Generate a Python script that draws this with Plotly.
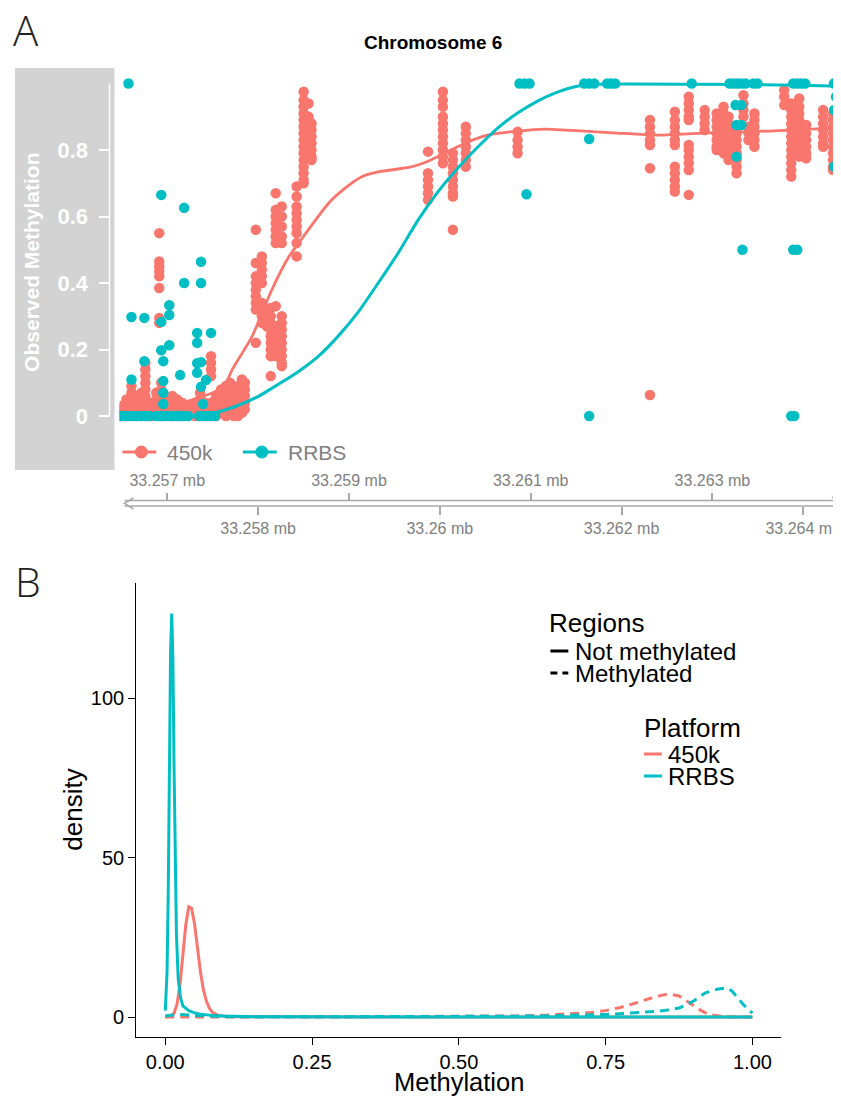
import plotly.graph_objects as go

W, H = 841, 1097
OFF = 8  # page body margin of the viewer, compensated in layout positions
SALMON = "#F8766D"
TEAL = "#00BFC4"

# ---------------- Panel A data (genomic position in bp, methylation) ----------------
k450_pos = [33256496, 33256551, 33256606, 33256660, 33256715, 33256759, 33256825, 33256880,
            33256912, 33256934, 33257000, 33257055, 33257110, 33257164, 33257241, 33257307,
            33257361, 33257416, 33257482, 33257537, 33257592, 33257646, 33257690, 33257734,
            33257778, 33257822, 33257854, 33257975, 33258041, 33258095, 33258139, 33258194,
            33258260, 33258424, 33258501, 33258555, 33258588, 33259870, 33260034, 33260144,
            33260286, 33260856, 33262313, 33262587, 33262740, 33262915, 33263047, 33263123,
            33263178, 33263266, 33263342, 33263397, 33263463, 33263791, 33263868, 33263956,
            33264032, 33264219, 33264328]
k450_vals = [
    [0.0, 0.02, 0.03], [0.0, 0.02, 0.04, 0.05], [0.01, 0.03, 0.05, 0.07, 0.09],
    [0.0, 0.02, 0.04, 0.06], [0.01, 0.03, 0.05, 0.07],
    [0.02, 0.04, 0.06, 0.08, 0.10, 0.12, 0.14, 0.16], [0.0, 0.02, 0.04],
    [0.01, 0.03, 0.05, 0.07], [0.55, 0.465, 0.45, 0.435, 0.42, 0.385, 0.295, 0.28],
    [0.0, 0.02, 0.04, 0.06, 0.08, 0.10], [0.01, 0.03, 0.05], [0.0, 0.02, 0.04, 0.06],
    [0.01, 0.03, 0.05], [0.0, 0.02, 0.04], [0.01, 0.03], [0.0, 0.02, 0.04],
    [0.01, 0.03, 0.05, 0.07], [0.0, 0.02, 0.04], [0.02, 0.04, 0.12, 0.14, 0.16, 0.18],
    [0.0, 0.02, 0.04, 0.06], [0.01, 0.03, 0.05, 0.07, 0.08], [0.0, 0.02, 0.04, 0.06, 0.09],
    [0.01, 0.03, 0.05, 0.07, 0.10], [0.0, 0.02, 0.04, 0.06, 0.08], [0.0, 0.02, 0.04, 0.06, 0.09],
    [0.01, 0.03, 0.05, 0.07, 0.09, 0.11], [0.02, 0.04, 0.06, 0.08, 0.10],
    [0.56, 0.46, 0.42, 0.40, 0.38, 0.36, 0.34, 0.32, 0.22],
    [0.48, 0.46, 0.44, 0.42, 0.40, 0.34, 0.32, 0.30, 0.28], [0.30, 0.27],
    [0.325, 0.30, 0.28, 0.26, 0.24, 0.22, 0.20, 0.18, 0.12],
    [0.67, 0.62, 0.60, 0.58, 0.56, 0.54, 0.52, 0.33, 0.27, 0.25, 0.23, 0.21, 0.18],
    [0.63, 0.60, 0.57, 0.54, 0.52, 0.30, 0.28, 0.26, 0.24, 0.22, 0.20, 0.18, 0.16, 0.15],
    [0.69, 0.66, 0.63, 0.61, 0.59, 0.57, 0.55, 0.52, 0.48],
    [0.975, 0.95, 0.93, 0.91, 0.89, 0.87, 0.85, 0.83, 0.81, 0.79, 0.77, 0.75, 0.73, 0.71, 0.70],
    [0.94, 0.90, 0.88, 0.86, 0.84, 0.82, 0.80, 0.78],
    [0.88, 0.86, 0.84, 0.82, 0.80, 0.78, 0.77],
    [0.795, 0.73, 0.71, 0.69, 0.67, 0.65],
    [0.975, 0.95, 0.93, 0.90, 0.88, 0.86, 0.84, 0.82, 0.80, 0.78, 0.76],
    [0.79, 0.77, 0.75, 0.73, 0.71, 0.69, 0.67, 0.66, 0.56],
    [0.87, 0.85, 0.83, 0.81, 0.79, 0.77, 0.75],
    [0.855, 0.83, 0.81, 0.79],
    [0.89, 0.87, 0.85, 0.83, 0.815, 0.745, 0.063],
    [0.915, 0.89, 0.87, 0.85, 0.83, 0.815, 0.75, 0.73, 0.71, 0.69, 0.675],
    [0.96, 0.94, 0.92, 0.90, 0.89, 0.815, 0.80, 0.78, 0.76, 0.74, 0.665],
    [0.92, 0.90, 0.88, 0.86],
    [0.91, 0.89, 0.87, 0.85, 0.83, 0.81, 0.80],
    [0.93, 0.91, 0.89, 0.87, 0.85, 0.83, 0.81, 0.79],
    [0.90, 0.88, 0.86, 0.84, 0.82, 0.80, 0.78, 0.77],
    [0.85, 0.83, 0.81, 0.79, 0.77, 0.75, 0.73],
    [0.965, 0.94, 0.92, 0.90],
    [0.87, 0.85, 0.83],
    [0.91, 0.89, 0.87, 0.85, 0.83, 0.81],
    [0.98, 0.96, 0.935],
    [0.94, 0.92, 0.90, 0.88, 0.86, 0.84, 0.82, 0.80, 0.78, 0.76, 0.74, 0.72],
    [0.955, 0.93, 0.91, 0.89, 0.87, 0.85, 0.83, 0.81, 0.79, 0.78],
    [0.875, 0.85, 0.83, 0.81, 0.79, 0.775],
    [0.92, 0.90, 0.88, 0.86, 0.84, 0.82, 0.81],
    [0.91, 0.89, 0.87, 0.85, 0.83, 0.81, 0.79, 0.77, 0.75, 0.74],
]

rrbs_pos = [33256573, 33256934, 33257186, 33257372, 33257186, 33257372, 33257022, 33257022,
            33256606, 33256748, 33256934, 33257329, 33257482, 33257329, 33257022, 33256934,
            33256748, 33256956, 33257329, 33257372, 33257329, 33257142, 33256606, 33256956,
            33257427, 33257372, 33256956, 33256956, 33257394,
            33256496, 33256540, 33256584, 33256628, 33256671, 33256715, 33256759, 33256803,
            33256880, 33256923, 33256967, 33257011, 33257055, 33257099, 33257142, 33257186,
            33257230, 33257351, 33257394, 33257438, 33257482, 33257526,
            33260878, 33260932, 33260987, 33261590, 33261644, 33261699, 33261842, 33261885,
            33261929, 33261644, 33260954, 33261644, 33262773, 33263189, 33263233, 33263277,
            33263320, 33263364, 33263452, 33263496, 33263255, 33263320, 33263266, 33263320,
            33263266, 33263331, 33263890, 33263934, 33263868, 33263901, 33263890, 33263934,
            33263978, 33264021, 33264339, 33264361, 33264339, 33264339]
rrbs_val = [1.0, 0.665, 0.626, 0.464, 0.40, 0.40, 0.333, 0.304,
            0.298, 0.295, 0.283, 0.25, 0.25, 0.22, 0.213, 0.198,
            0.165, 0.165, 0.159, 0.162, 0.13, 0.123, 0.11, 0.105,
            0.108, 0.088, 0.07, 0.036, 0.036,
            0.0, 0.0, 0.0, 0.0, 0.0, 0.0, 0.0, 0.0,
            0.0, 0.0, 0.0, 0.0, 0.0, 0.0, 0.0, 0.0,
            0.0, 0.0, 0.0, 0.0, 0.0, 0.0,
            1.0, 1.0, 1.0, 1.0, 1.0, 1.0, 1.0, 1.0,
            1.0, 0.833, 0.667, 0.0, 1.0, 1.0, 1.0, 1.0,
            1.0, 1.0, 1.0, 1.0, 0.935, 0.935, 0.875, 0.875,
            0.78, 0.5, 0.5, 0.5, 0.0, 0.0, 1.0, 1.0,
            1.0, 1.0, 1.0, 0.96, 0.92, 0.75]

k450_smooth_pos = [33256496, 33257142, 33257493, 33257624, 33257712, 33257931, 33258150,
                   33258336, 33258446, 33258775, 33258961, 33259136, 33259322, 33259684,
                   33259903, 33260056, 33260308, 33260527, 33260856, 33261152, 33261590,
                   33261951, 33262389, 33262904, 33263627, 33264361]
k450_smooth_val = [0.024, 0.039, 0.069, 0.087, 0.138, 0.238, 0.379, 0.478, 0.52, 0.64,
                   0.686, 0.719, 0.734, 0.749, 0.77, 0.791, 0.824, 0.845, 0.857, 0.863,
                   0.857, 0.851, 0.845, 0.851, 0.857, 0.866]

rrbs_smooth_pos = [33256496, 33257351, 33257515, 33257734, 33258008, 33258227, 33258446,
                   33258665, 33258884, 33259103, 33259322, 33259541, 33259760, 33259979,
                   33260199, 33260418, 33260637, 33260856, 33261075, 33261294, 33261513,
                   33261732, 33262828, 33263923, 33264361]
rrbs_smooth_val = [0.0, 0.0, 0.009, 0.027, 0.06, 0.096, 0.134, 0.18, 0.241, 0.313, 0.40,
                   0.49, 0.589, 0.674, 0.746, 0.809, 0.866, 0.911, 0.947, 0.974, 0.992,
                   0.998, 0.998, 0.995, 0.992]

genome_top_ticks = [33257000, 33259000, 33261000, 33263000]
genome_top_labels = ["33.257 mb", "33.259 mb", "33.261 mb", "33.263 mb"]
genome_bot_ticks = [33258000, 33260000, 33262000, 33264000]
genome_bot_labels = ["33.258 mb", "33.26 mb", "33.262 mb", "33.264 mb"]
meth_ticks = [0, 0.2, 0.4, 0.6, 0.8]
meth_labels = ["0", "0.2", "0.4", "0.6", "0.8"]

# ---------------- Panel B data (density curves) ----------------
d450_unmeth_x = [0.0, 0.01, 0.015, 0.02, 0.025, 0.03, 0.035, 0.04, 0.045, 0.05, 0.055, 0.06,
                 0.065, 0.07, 0.075, 0.08, 0.09, 0.1, 0.12, 0.2, 0.4, 0.6, 0.8, 1.0]
d450_unmeth_y = [0.0, 0.3, 1.2, 4.0, 10.0, 19.0, 29.0, 34.5, 34.0, 29.0, 21.0, 14.0,
                 8.5, 5.0, 2.8, 1.5, 0.5, 0.2, 0.05, 0.0, 0.0, 0.0, 0.0, 0.0]
drrbs_unmeth_x = [0.0, 0.003, 0.005, 0.007, 0.009, 0.011, 0.013, 0.015, 0.017, 0.019, 0.022,
                  0.026, 0.03, 0.04, 0.05, 0.06, 0.08, 0.1, 0.15, 0.3, 0.5, 0.7, 0.9, 1.0]
drrbs_unmeth_y = [2.0, 14.0, 38.0, 78.0, 114.0, 126.5, 112.0, 78.0, 46.0, 26.0, 12.0,
                  6.0, 3.5, 2.0, 1.3, 0.9, 0.5, 0.3, 0.1, 0.0, 0.0, 0.0, 0.0, 0.0]
d450_meth_x = [0.0, 0.05, 0.1, 0.2, 0.3, 0.4, 0.5, 0.55, 0.6, 0.65, 0.7, 0.725, 0.75, 0.775,
               0.8, 0.825, 0.85, 0.86, 0.875, 0.9, 0.91, 0.925, 0.95, 0.975, 1.0]
d450_meth_y = [0.0, 0.05, 0.05, 0.05, 0.05, 0.1, 0.15, 0.2, 0.35, 0.6, 1.0, 1.4, 2.0, 3.0,
               4.3, 5.8, 7.0, 7.1, 6.6, 3.6, 2.3, 0.8, 0.15, 0.02, 0.0]
drrbs_meth_x = [0.0, 0.02, 0.05, 0.1, 0.2, 0.3, 0.4, 0.5, 0.6, 0.65, 0.7, 0.75, 0.8, 0.825,
                0.85, 0.875, 0.9, 0.92, 0.94, 0.955, 0.965, 0.975, 0.985, 1.0]
drrbs_meth_y = [0.3, 0.8, 0.5, 0.1, 0.05, 0.05, 0.1, 0.15, 0.25, 0.35, 0.5, 0.8, 1.3, 1.6,
                2.0, 2.8, 5.0, 7.6, 8.7, 9.1, 8.2, 6.0, 3.8, 1.2]
dens_ticks = [0, 0.25, 0.5, 0.75, 1.0]
dens_tick_labels = ["0.00", "0.25", "0.50", "0.75", "1.00"]


def px(x):
    return (x - OFF) / W


def py(y):
    return 1 - (y - OFF) / H


# flatten 450k columns
k450_x, k450_y = [], []
for p, vals in zip(k450_pos, k450_vals):
    for v in vals:
        k450_x.append(p)
        k450_y.append(v)

XR = [33256474, 33264372]
FONT = "Liberation Sans, Arial, sans-serif"

fig = go.Figure()
fig.add_trace(go.Scatter(x=k450_x, y=k450_y, mode="markers", xaxis="x", yaxis="y",
                         marker=dict(color=SALMON, size=10.5, line=dict(width=0)),
                         showlegend=False, hoverinfo="skip"))
fig.add_trace(go.Scatter(x=k450_smooth_pos, y=k450_smooth_val, mode="lines", xaxis="x", yaxis="y",
                         line=dict(color=SALMON, width=2.8, shape="spline", smoothing=0.6),
                         showlegend=False, hoverinfo="skip"))
fig.add_trace(go.Scatter(x=rrbs_pos, y=rrbs_val, mode="markers", xaxis="x", yaxis="y",
                         marker=dict(color=TEAL, size=10.5, line=dict(width=0)),
                         showlegend=False, hoverinfo="skip"))
fig.add_trace(go.Scatter(x=rrbs_smooth_pos, y=rrbs_smooth_val, mode="lines", xaxis="x", yaxis="y",
                         line=dict(color=TEAL, width=3, shape="spline", smoothing=0.5),
                         showlegend=False, hoverinfo="skip"))
# carrier traces for genome axis overlays
fig.add_trace(go.Scatter(x=XR, y=[-5, -5], mode="lines", xaxis="x3", yaxis="y",
                         opacity=0, showlegend=False, hoverinfo="skip"))
fig.add_trace(go.Scatter(x=XR, y=[-5, -5], mode="lines", xaxis="x4", yaxis="y",
                         opacity=0, showlegend=False, hoverinfo="skip"))

# Panel B
dash = "9px,6px"
fig.add_trace(go.Scatter(x=d450_unmeth_x, y=d450_unmeth_y, mode="lines", xaxis="x2", yaxis="y2",
                         line=dict(color=SALMON, width=3), showlegend=False, hoverinfo="skip"))
fig.add_trace(go.Scatter(x=d450_meth_x, y=d450_meth_y, mode="lines", xaxis="x2", yaxis="y2",
                         line=dict(color=SALMON, width=3, dash=dash), showlegend=False, hoverinfo="skip"))
fig.add_trace(go.Scatter(x=drrbs_unmeth_x, y=drrbs_unmeth_y, mode="lines", xaxis="x2", yaxis="y2",
                         line=dict(color=TEAL, width=3), showlegend=False, hoverinfo="skip"))
fig.add_trace(go.Scatter(x=drrbs_meth_x, y=drrbs_meth_y, mode="lines", xaxis="x2", yaxis="y2",
                         line=dict(color=TEAL, width=3, dash=dash), showlegend=False, hoverinfo="skip"))

GREY_TXT = "#808080"
AX_GREY = "#A9A9A9"

fig.update_layout(
    width=W, height=H, margin=dict(l=0, r=0, t=0, b=0),
    paper_bgcolor="white", plot_bgcolor="white",
    font=dict(family=FONT, color="black"),
    xaxis=dict(domain=[px(120), px(841)], range=XR, visible=False, anchor="y", fixedrange=True),
    yaxis=dict(domain=[py(430), py(70)], range=[-0.0421, 1.0406], anchor="free", position=px(110),
               showgrid=False, zeroline=False, showline=False,
               tickvals=meth_ticks, ticktext=meth_labels, ticks="outside", ticklen=11,
               tickwidth=1.5, tickcolor="white", ticklabelstandoff=6,
               tickfont=dict(family=FONT, size=22, color="white", weight="bold")),
    xaxis3=dict(overlaying="x", anchor="free", position=py(500.5), side="top", range=XR,
                showgrid=False, zeroline=False, showline=False,
                tickvals=genome_top_ticks, ticktext=genome_top_labels, ticks="outside",
                ticklen=8, tickwidth=1.5, tickcolor=AX_GREY,
                tickfont=dict(family=FONT, size=16, color=GREY_TXT)),
    xaxis4=dict(overlaying="x", anchor="free", position=py(506), side="bottom", range=XR,
                showgrid=False, zeroline=False, showline=False,
                tickvals=genome_bot_ticks, ticktext=genome_bot_labels, ticks="outside",
                ticklen=8, tickwidth=1.5, tickcolor=AX_GREY,
                tickfont=dict(family=FONT, size=16, color=GREY_TXT)),
    xaxis2=dict(domain=[px(137), px(785)], range=[-0.0492, 1.0492], anchor="y2",
                showgrid=False, zeroline=False, showline=True, linecolor="black", linewidth=1.3,
                tickvals=dens_ticks, ticktext=dens_tick_labels, ticks="outside", ticklen=7,
                tickwidth=1.3, tickcolor="black",
                tickfont=dict(family=FONT, size=20, color="black")),
    yaxis2=dict(domain=[py(1037), py(583)], range=[-6.27, 136.05], anchor="x2",
                showgrid=False, zeroline=False, showline=True, linecolor="black", linewidth=1.3,
                tickvals=[0, 50, 100], ticks="outside", ticklen=7, tickwidth=1.3, tickcolor="black",
                tickfont=dict(family=FONT, size=20, color="black")),
)

shapes = []
# grey title panel of track
shapes.append(dict(type="rect", xref="paper", yref="paper", x0=px(15), x1=px(115), y0=py(470), y1=py(68),
                   fillcolor="#D3D3D3", line=dict(width=0), layer="below"))
# white y axis line
shapes.append(dict(type="line", xref="paper", yref="y", x0=px(110), x1=px(110), y0=0, y1=1,
                   line=dict(color="white", width=1.5)))
# genome axis double line with arrow ends
for yy in (500.5, 506):
    shapes.append(dict(type="line", xref="paper", yref="paper", x0=px(125), x1=px(845), y0=py(yy), y1=py(yy),
                       line=dict(color=AX_GREY, width=1.6)))
shapes.append(dict(type="path", xref="paper", yref="paper",
                   path=f"M {px(134)},{py(498)} L {px(125)},{py(503.2)} L {px(134)},{py(509)}",
                   line=dict(color=AX_GREY, width=1.6)))
shapes.append(dict(type="path", xref="paper", yref="paper",
                   path=f"M {px(836)},{py(497)} L {px(841)},{py(500)}",
                   line=dict(color=AX_GREY, width=1.6)))
# Panel A legend keys
for (x0, x1, col) in ((123, 157, SALMON), (244, 278, TEAL)):
    shapes.append(dict(type="line", xref="paper", yref="paper", x0=px(x0), x1=px(x1), y0=py(452), y1=py(452),
                       line=dict(color=col, width=3)))
    cx = (x0 + x1) / 2 + 2
    shapes.append(dict(type="circle", xref="paper", yref="paper", x0=px(cx - 6.5), x1=px(cx + 6.5),
                       y0=py(452 + 6.5), y1=py(452 - 6.5), fillcolor=col, line=dict(width=0)))
# Panel B legend keys
shapes.append(dict(type="line", xref="paper", yref="paper", x0=px(553), x1=px(571), y0=py(651), y1=py(651),
                   line=dict(color="black", width=3)))
shapes.append(dict(type="line", xref="paper", yref="paper", x0=px(553), x1=px(571), y0=py(673), y1=py(673),
                   line=dict(color="black", width=3, dash="7px,5px")))
shapes.append(dict(type="line", xref="paper", yref="paper", x0=px(647), x1=px(665), y0=py(754), y1=py(754),
                   line=dict(color=SALMON, width=3)))
shapes.append(dict(type="line", xref="paper", yref="paper", x0=px(647), x1=px(665), y0=py(776), y1=py(776),
                   line=dict(color=TEAL, width=3)))
fig.update_layout(shapes=shapes)


def ann(text, x, y, size, color="black", xanchor="left", angle=0, bold=False, family=FONT, weight=None):
    f = dict(family=family, size=size, color=color)
    if bold:
        f["weight"] = "bold"
    if weight is not None:
        f["weight"] = weight
    return dict(text=text, xref="paper", yref="paper", x=px(x), y=py(y), xanchor=xanchor,
                yanchor="middle", showarrow=False, textangle=angle, font=f)


annotations = [
    ann("A", 11, 29, 42, color="#222222", family="Open Sans, Liberation Sans, sans-serif", weight=300),
    ann("B", 13, 581, 41, color="#222222", family="Open Sans, Liberation Sans, sans-serif", weight=300),
    ann("Chromosome 6", 435, 42, 19, xanchor="center", bold=True),
    ann("Observed Methylation", 31, 262, 21, color="white", xanchor="center", angle=-90, bold=True),
    ann("450k", 166, 452, 21, color=GREY_TXT),
    ann("RRBS", 287, 452, 21, color=GREY_TXT),
    ann("density", 73, 810, 26, xanchor="center", angle=-90),
    ann("Methylation", 461, 1082, 25.5, xanchor="center"),
    ann("Regions", 550, 623, 26),
    ann("Not methylated", 576, 651, 24),
    ann("Methylated", 576, 673, 24),
    ann("Platform", 645, 728, 26),
    ann("450k", 669, 754, 24),
    ann("RRBS", 669, 776, 24),
]
fig.update_layout(annotations=annotations)

fig.write_html("out.html")
